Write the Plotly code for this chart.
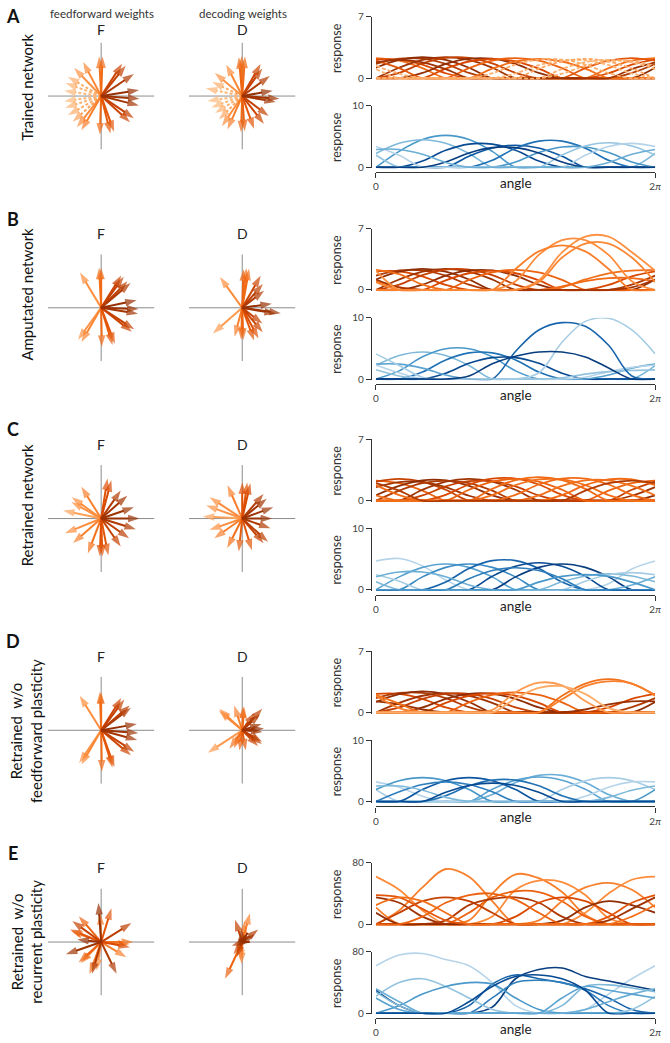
import math
import plotly.graph_objects as go
from plotly.colors import sample_colorscale

W, H = 670, 1043
FONT = "Lato"

# ---------------- layout anchors (pixel rows) ----------------
ROW_TOP = [10, 224, 437, 651, 865]
ROW_LETTERS = ["A", "B", "C", "D", "E"]
ROW_LABELS = ["Trained network", "Amputated network", "Retrained network",
              "Retrained  w/o<br>feedforward plasticity",
              "Retrained  w/o<br>recurrent plasticity"]
ORANGE_MAX = [7, 7, 7, 7, 80]
BLUE_MAX = [10, 10, 10, 10, 80]
GRID_DEG = [0, 30, 60, 90, 120, 150, 180, 210, 240, 270, 300, 330, 360]
X_TICK_TEXT = ["0", "2<i>π</i>"]

# ---------------- weight vectors (angle deg, length, shade) ----------------
A_F_ANG = [88, 93, 118, 134, 150, 160, 172, 188, 198, 210, 222, 232, 240, 268, 284, 290, 318, 326, 346, 356, 9, 34, 51, 57]
A_F_LEN = [0.74, 0.74, 0.72, 0.73, 0.72, 0.71, 0.70, 0.70, 0.71, 0.72, 0.72, 0.74, 0.74, 0.72, 0.72, 0.71, 0.73, 0.74, 0.73, 0.72, 0.72, 0.74, 0.73, 0.72]
A_F_SH = [0.62, 0.6, 0.52, 0.48, 0.38, 0.36, 0.34, 0.34, 0.36, 0.38, 0.42, 0.5, 0.55, 0.62, 0.68, 0.7, 0.78, 0.8, 0.88, 0.9, 0.92, 0.85, 0.8, 0.78]
A_F_DASH = [0, 0, 0, 0, 1, 1, 1, 1, 1, 1, 1, 0, 0, 0, 0, 0, 0, 0, 0, 0, 0, 0, 0, 0]

A_D_ANG = [86, 91, 95, 117, 140, 155, 168, 188, 200, 212, 225, 236, 246, 268, 274, 290, 308, 323, 350, 356, 10, 36, 54, 60]
A_D_LEN = [0.74, 0.75, 0.73, 0.66, 0.67, 0.62, 0.70, 0.66, 0.62, 0.60, 0.62, 0.68, 0.68, 0.68, 0.66, 0.65, 0.66, 0.62, 0.64, 0.70, 0.58, 0.64, 0.64, 0.69]
A_D_SH = [0.62, 0.6, 0.64, 0.52, 0.48, 0.38, 0.36, 0.34, 0.34, 0.36, 0.4, 0.5, 0.55, 0.62, 0.66, 0.7, 0.78, 0.8, 0.88, 0.9, 0.92, 0.85, 0.8, 0.78]
A_D_DASH = [0, 0, 0, 0, 0, 1, 1, 1, 1, 1, 1, 0, 0, 0, 0, 0, 0, 0, 0, 0, 0, 0, 0, 0]

B_F_ANG = [90, 93, 121, 234, 240, 271, 287, 291, 322, 327, 351, 358, 12, 40, 45, 54, 58]
B_F_LEN = [0.75, 0.75, 0.77, 0.74, 0.74, 0.73, 0.73, 0.72, 0.73, 0.74, 0.70, 0.70, 0.68, 0.72, 0.70, 0.72, 0.71]
B_F_SH = [0.62, 0.6, 0.5, 0.48, 0.52, 0.62, 0.68, 0.7, 0.78, 0.8, 0.88, 0.9, 0.92, 0.85, 0.82, 0.8, 0.78]

B_D_ANG = [80, 84, 88, 126, 221, 255, 268, 272, 290, 298, 310, 322, 350, 352, 8, 38, 49, 60]
B_D_LEN = [0.74, 0.75, 0.72, 0.71, 0.73, 0.56, 0.60, 0.60, 0.65, 0.65, 0.60, 0.48, 0.64, 0.73, 0.56, 0.52, 0.59, 0.69]
B_D_SH = [0.62, 0.6, 0.64, 0.5, 0.45, 0.55, 0.62, 0.64, 0.7, 0.72, 0.78, 0.8, 0.88, 0.9, 0.92, 0.85, 0.82, 0.78]

C_F_ANG = [81, 75, 122, 144, 151, 168, 202, 221, 249, 268, 272, 281, 305, 325, 343, 0, 19, 41, 55]
C_F_LEN = [0.76, 0.74, 0.70, 0.68, 0.64, 0.73, 0.73, 0.70, 0.70, 0.71, 0.71, 0.70, 0.64, 0.64, 0.68, 0.72, 0.65, 0.65, 0.64]
C_F_SH = [0.72, 0.75, 0.55, 0.5, 0.48, 0.42, 0.5, 0.55, 0.6, 0.72, 0.68, 0.7, 0.8, 0.82, 0.85, 0.92, 0.9, 0.88, 0.85]

C_D_ANG = [90, 82, 77, 114, 147, 160, 177, 199, 215, 243, 264, 287, 311, 318, 341, 0, 20, 39, 49]
C_D_LEN = [0.68, 0.68, 0.68, 0.68, 0.73, 0.72, 0.74, 0.65, 0.64, 0.62, 0.62, 0.62, 0.61, 0.65, 0.56, 0.56, 0.62, 0.59, 0.61]
C_D_SH = [0.72, 0.7, 0.75, 0.55, 0.5, 0.48, 0.42, 0.5, 0.55, 0.6, 0.68, 0.7, 0.8, 0.82, 0.85, 0.92, 0.9, 0.88, 0.85]

D_F_ANG = [90, 92, 122, 236, 240, 271, 287, 290, 320, 327, 345, 356, 10, 37, 41, 53, 58]
D_F_LEN = [0.71, 0.72, 0.76, 0.74, 0.74, 0.77, 0.73, 0.73, 0.73, 0.74, 0.70, 0.70, 0.68, 0.70, 0.71, 0.72, 0.71]
D_F_SH = [0.62, 0.6, 0.5, 0.48, 0.52, 0.62, 0.68, 0.7, 0.78, 0.8, 0.88, 0.9, 0.92, 0.85, 0.82, 0.8, 0.78]

D_D_ANG = [137, 140, 108, 85, 88, 55, 47, 42, 18, 5, 355, 330, 325, 315, 280, 262, 245, 235, 213]
D_D_LEN = [0.59, 0.57, 0.49, 0.44, 0.45, 0.40, 0.55, 0.45, 0.38, 0.41, 0.38, 0.43, 0.45, 0.42, 0.38, 0.38, 0.37, 0.42, 0.77]
D_D_SH = [0.5, 0.52, 0.55, 0.6, 0.62, 0.8, 0.82, 0.85, 0.9, 0.92, 0.9, 0.82, 0.8, 0.78, 0.68, 0.65, 0.6, 0.58, 0.45]

E_F_ANG = [94, 92, 73, 32, 0, 355, 350, 329, 296, 261, 254, 250, 222, 226, 199, 174, 158, 160, 144, 131]
E_F_LEN = [0.73, 0.54, 0.66, 0.67, 0.60, 0.53, 0.55, 0.55, 0.66, 0.54, 0.62, 0.64, 0.57, 0.55, 0.70, 0.45, 0.63, 0.60, 0.67, 0.64]
E_F_SH = [0.92, 0.55, 0.7, 0.82, 0.6, 0.55, 0.75, 0.55, 0.85, 0.5, 0.85, 0.6, 0.65, 0.55, 0.9, 0.92, 0.7, 0.55, 0.8, 0.65]

E_D_ANG = [75, 108, 83, 38, 31, 0, 200, 234, 263, 268, 245, 95, 60, 250]
E_D_LEN = [0.56, 0.44, 0.39, 0.38, 0.27, 0.14, 0.21, 0.28, 0.35, 0.41, 0.76, 0.25, 0.20, 0.30]
E_D_SH = [0.55, 0.8, 0.6, 0.85, 0.9, 0.92, 0.85, 0.75, 0.5, 0.55, 0.65, 0.9, 0.92, 0.8]

# ---------------- response curves (values at GRID_DEG) ----------------
A_ORANGE = [
    [2.3, 2.0, 1.15, 0, 0, 0, 0, 0, 0, 0, 1.15, 2.0, 2.3],
    [2.13, 2.13, 1.56, 0.57, 0, 0, 0, 0, 0, 0, 0.57, 1.56, 2.13],
    [1.63, 2.23, 2.23, 1.63, 0.6, 0, 0, 0, 0, 0, 0, 0.6, 1.63],
    [1.2, 2.09, 2.4, 2.09, 1.2, 0, 0, 0, 0, 0, 0, 0, 1.2],
    [0, 1.2, 2.09, 2.4, 2.09, 1.2, 0, 0, 0, 0, 0, 0, 0],
    [0, 0.62, 1.7, 2.33, 2.33, 1.7, 0.62, 0, 0, 0, 0, 0, 0],
    [0, 0, 0.6, 1.63, 2.23, 2.23, 1.63, 0.6, 0, 0, 0, 0, 0],
    [0, 0, 0, 1.1, 1.91, 2.2, 1.91, 1.1, 0, 0, 0, 0, 0],
    [0, 0, 0, 0, 1.15, 2.0, 2.3, 2.0, 1.15, 0, 0, 0, 0],
    [0, 0, 0, 0, 0, 1.1, 1.91, 2.2, 1.91, 1.1, 0, 0, 0],
    [2.0, 1.15, 0, 0, 0, 0, 0, 0, 0, 1.15, 2.0, 2.3, 2.0],
    [1.82, 2.1, 1.82, 1.05, 0, 0, 0, 0, 0, 0, 0, 1.05, 1.82],
    [0, 0, 0, 0, 0, 0.57, 1.56, 2.13, 2.13, 1.56, 0.57, 0, 0],
    [0, 0, 0, 0, 0, 0, 0.55, 1.49, 2.04, 2.04, 1.49, 0.55, 0],
    [0, 0, 0, 0, 0, 0, 0, 1.1, 1.91, 2.2, 1.91, 1.1, 0],
    [1.05, 0, 0, 0, 0, 0, 0, 0, 1.05, 1.83, 2.1, 1.83, 1.05],
    [1.42, 0.52, 0, 0, 0, 0, 0, 0, 0.52, 1.42, 1.94, 1.94, 1.42],
]
A_ORANGE_SH = [0.6, 0.75, 0.85, 0.95, 0.9, 0.8, 0.95, 0.75, 0.65, 0.6, 0.7, 0.9, 0.38, 0.35, 0.4, 0.36, 0.38]
A_ORANGE_DASH = [0, 0, 0, 0, 0, 0, 0, 0, 0, 0, 0, 0, 1, 1, 1, 1, 1]

A_BLUE = [
    [0, 0, 0, 0, 0, 0, 0, 0, 0, 0, 0, 0, 0],
    [0, 0, 0, 0, 0, 0, 0, 0, 0, 0, 0, 0, 0],
    [0, 2.6, 4.52, 5.2, 4.52, 2.6, 0, 0, 0, 0, 0, 0, 0],
    [2.25, 3.92, 4.5, 3.92, 2.25, 0, 0, 0, 0, 0, 0, 0, 2.25],
    [0, 0, 1.01, 2.77, 3.78, 3.78, 2.77, 1.01, 0, 0, 0, 0, 0],
    [0, 0, 0, 0, 1.8, 3.13, 3.6, 3.13, 1.8, 0, 0, 0, 0],
    [0, 0, 0, 0, 0, 1.14, 3.12, 4.27, 4.27, 3.12, 1.14, 0, 0],
    [0, 0, 0, 0, 0, 0, 0.88, 2.41, 3.3, 3.3, 2.41, 0.88, 0],
    [2.0, 0, 0, 0, 0, 0, 0, 0, 2.0, 3.48, 4.0, 3.48, 2.0],
    [3.39, 1.95, 0, 0, 0, 0, 0, 0, 0, 1.95, 3.39, 3.9, 3.39],
    [0, 0, 0, 0.86, 2.34, 3.2, 3.2, 2.34, 0.86, 0, 0, 0, 0],
    [2.91, 2.91, 2.13, 0.78, 0, 0, 0, 0, 0, 0, 0.78, 2.13, 2.91],
]
A_BLUE_SH = [0.35, 0.6, 0.6, 0.45, 0.9, 0.85, 0.75, 0.6, 0.4, 0.3, 0.95, 0.5]

B_ORANGE = [
    [2.13, 2.13, 1.56, 0.57, 0, 0, 0, 0, 0, 0, 0.57, 1.56, 2.13],
    [1.63, 2.23, 2.23, 1.63, 0.6, 0, 0, 0, 0, 0, 0, 0.6, 1.63],
    [1.2, 2.09, 2.4, 2.09, 1.2, 0, 0, 0, 0, 0, 0, 0, 1.2],
    [0, 1.2, 2.09, 2.4, 2.09, 1.2, 0, 0, 0, 0, 0, 0, 0],
    [0, 0.62, 1.7, 2.33, 2.33, 1.7, 0.62, 0, 0, 0, 0, 0, 0],
    [0, 0, 0.6, 1.63, 2.23, 2.23, 1.63, 0.6, 0, 0, 0, 0, 0],
    [0, 0, 0, 1.1, 1.91, 2.2, 1.91, 1.1, 0, 0, 0, 0, 0],
    [0, 0, 0, 0, 1.15, 2.0, 2.3, 2.0, 1.15, 0, 0, 0, 0],
    [2.3, 1.8, 0.6, 0, 0, 0, 0, 0, 0.3, 1.2, 1.9, 2.2, 2.3],
    [1.0, 0.3, 0, 0, 0, 0, 0, 0, 0.4, 1.0, 1.35, 1.35, 1.0],
    [1.2, 0.3, 0, 0, 0, 0, 0, 0, 0, 0, 0, 0.3, 1.2],
    [0, 0, 0, 0, 0, 0, 1.0, 4.0, 5.7, 5.7, 4.0, 1.0, 0],
    [2.2, 0, 0, 0, 0, 0, 0, 1.1, 4.3, 6.1, 6.1, 4.3, 2.2],
    [0, 0, 0, 0, 0, 0, 2.4, 4.4, 5.1, 4.4, 2.4, 0, 0],
    [0.9, 0, 0, 0, 0, 0, 0, 0.9, 3.7, 5.3, 5.3, 3.7, 0.9],
]
B_ORANGE_SH = [0.75, 0.85, 0.95, 0.9, 0.8, 0.95, 0.75, 0.65, 0.6, 0.62, 0.88, 0.5, 0.48, 0.55, 0.52]

B_BLUE = [
    [0, 0, 0, 0, 0, 0, 0, 0, 0, 0, 0, 0, 0],
    [0, 0, 0, 0, 0, 0, 0, 0, 0, 0, 0, 0, 0],
    [2.2, 3.83, 4.4, 3.83, 2.2, 0, 0, 0, 0, 0, 0, 0, 2.2],
    [0, 1.33, 3.62, 4.95, 4.95, 3.62, 1.33, 0, 0, 0, 0, 0, 0],
    [0, 0, 1.14, 3.12, 4.27, 4.27, 3.12, 1.14, 0, 0, 0, 0, 0],
    [0, 0, 0, 0.94, 2.56, 3.49, 3.49, 2.56, 0.94, 0, 0, 0, 0],
    [2.43, 2.43, 1.78, 0.65, 0, 0, 0, 0, 0, 0, 0.65, 1.78, 2.43],
    [2.3, 1.0, 0, 0, 0, 0, 0, 0, 0, 0.3, 1.2, 1.9, 2.3],
    [1.5, 0.5, 0, 0, 0, 0, 0, 0, 0.2, 0.8, 1.2, 1.4, 1.5],
    [0, 0, 0, 0, 0, 0, 4.5, 8.0, 9.2, 8.6, 5.5, 0.5, 0],
    [4.1, 2.2, 0.3, 0, 0, 0, 0, 1.0, 6.0, 9.4, 9.9, 8.0, 4.1],
    [0, 0, 0, 0, 0.5, 2.5, 3.7, 4.4, 4.4, 3.6, 1.8, 0, 0],
]
B_BLUE_SH = [0.35, 0.6, 0.45, 0.6, 0.75, 0.9, 0.55, 0.3, 0.4, 0.8, 0.35, 0.95]

C_ORANGE = [
    [2.3, 2.0, 1.15, 0, 0, 0, 0, 0, 0, 0, 1.15, 2.0, 2.3],
    [2.18, 2.5, 2.18, 1.25, 0, 0, 0, 0, 0, 0, 0, 1.25, 2.18],
    [1.56, 2.13, 2.13, 1.56, 0.57, 0, 0, 0, 0, 0, 0, 0.57, 1.56],
    [0.62, 1.7, 2.33, 2.33, 1.7, 0.62, 0, 0, 0, 0, 0, 0, 0.62],
    [0, 1.15, 2.0, 2.3, 2.0, 1.15, 0, 0, 0, 0, 0, 0, 0],
    [0, 0, 1.25, 2.18, 2.5, 2.18, 1.25, 0, 0, 0, 0, 0, 0],
    [0, 0, 0.6, 1.63, 2.23, 2.23, 1.63, 0.6, 0, 0, 0, 0, 0],
    [0, 0, 0, 0.68, 1.85, 2.52, 2.52, 1.85, 0.68, 0, 0, 0, 0],
    [0, 0, 0, 0, 1.25, 2.18, 2.5, 2.18, 1.25, 0, 0, 0, 0],
    [0, 0, 0, 0, 0, 1.35, 2.35, 2.7, 2.35, 1.35, 0, 0, 0],
    [0, 0, 0, 0, 0, 0.65, 1.78, 2.43, 2.43, 1.78, 0.65, 0, 0],
    [0, 0, 0, 0, 0, 0, 0.68, 1.85, 2.52, 2.52, 1.85, 0.68, 0],
    [0.62, 0, 0, 0, 0, 0, 0, 0.62, 1.7, 2.33, 2.33, 1.7, 0.62],
    [1.78, 0.65, 0, 0, 0, 0, 0, 0, 0.65, 1.78, 2.43, 2.43, 1.78],
    [2.0, 1.15, 0, 0, 0, 0, 0, 0, 0, 1.15, 2.0, 2.3, 2.0],
]
C_ORANGE_SH = [0.65, 0.8, 0.9, 0.95, 0.85, 0.9, 0.8, 0.75, 0.65, 0.62, 0.6, 0.62, 0.6, 0.62, 0.85]

C_BLUE = [
    [0, 0, 0, 0, 0, 0, 0, 0, 0, 0, 0, 0, 0],
    [0, 0, 0, 0, 0, 0, 0, 0, 0, 0, 0, 0, 0],
    [4.7, 5.1, 3.9, 1.6, 0, 0, 0, 0, 0, 0, 1.0, 3.4, 4.7],
    [0, 2.1, 3.65, 4.2, 3.65, 2.1, 0, 0, 0, 0, 0, 0, 0],
    [0, 0, 2.1, 3.65, 4.2, 3.65, 2.1, 0, 0, 0, 0, 0, 0],
    [0, 0, 0, 1.27, 3.48, 4.75, 4.75, 3.48, 1.27, 0, 0, 0, 0],
    [0, 0, 0, 0, 0, 2.2, 3.83, 4.4, 3.83, 2.2, 0, 0, 0],
    [0, 0, 0, 0, 0, 0, 2.1, 3.65, 4.2, 3.65, 2.1, 0, 0],
    [1.3, 0, 0, 0, 0, 0, 0, 0, 1.3, 2.26, 2.6, 2.26, 1.3],
    [2.44, 1.4, 0, 0, 0, 0, 0, 0, 0, 1.4, 2.44, 2.8, 2.44],
    [2.13, 2.91, 2.91, 2.13, 0.78, 0, 0, 0, 0, 0, 0, 0.78, 2.13],
    [0, 0, 0, 0, 1.8, 3.13, 3.6, 3.13, 1.8, 0, 0, 0, 0],
    [0, 0, 0, 0, 0, 0, 0, 1.25, 2.18, 2.5, 2.18, 1.25, 0],
]
C_BLUE_SH = [0.35, 0.6, 0.3, 0.55, 0.65, 0.8, 0.9, 0.95, 0.45, 0.35, 0.5, 0.7, 0.6]

D_ORANGE = [
    [2.13, 2.13, 1.56, 0.57, 0, 0, 0, 0, 0, 0, 0.57, 1.56, 2.13],
    [1.63, 2.23, 2.23, 1.63, 0.6, 0, 0, 0, 0, 0, 0, 0.6, 1.63],
    [1.2, 2.09, 2.4, 2.09, 1.2, 0, 0, 0, 0, 0, 0, 0, 1.2],
    [0, 1.1, 1.91, 2.2, 1.91, 1.1, 0, 0, 0, 0, 0, 0, 0],
    [0, 0.57, 1.56, 2.13, 2.13, 1.56, 0.57, 0, 0, 0, 0, 0, 0],
    [0, 0, 0.57, 1.56, 2.13, 2.13, 1.56, 0.57, 0, 0, 0, 0, 0],
    [0, 0, 0, 1.1, 1.91, 2.2, 1.91, 1.1, 0, 0, 0, 0, 0],
    [0, 0, 0, 0, 1.15, 2.0, 2.3, 2.0, 1.15, 0, 0, 0, 0],
    [1.26, 0.92, 0.34, 0, 0, 0, 0, 0, 0, 0.34, 0.92, 1.26, 1.26],
    [2.0, 1.0, 0, 0, 0, 0, 0, 0, 1.9, 3.3, 3.8, 3.3, 2.0],
    [1.9, 0.5, 0, 0, 0, 0, 0, 0, 1.5, 3.0, 3.55, 3.3, 1.9],
    [0, 0, 0, 0, 0, 0.3, 2.3, 3.4, 3.1, 1.3, 0, 0, 0],
    [0, 0, 0, 0, 0, 0, 1.6, 2.8, 3.0, 2.1, 0.5, 0, 0],
]
D_ORANGE_SH = [0.75, 0.85, 0.95, 0.9, 0.8, 0.95, 0.75, 0.65, 0.92, 0.6, 0.55, 0.45, 0.38]

D_BLUE = [
    [0, 0, 0, 0, 0, 0, 0, 0, 0, 0, 0, 0, 0],
    [0, 0, 0, 0, 0, 0, 0, 0, 0, 0, 0, 0, 0],
    [0, 0, 0, 0, 0, 1.14, 3.12, 4.27, 4.27, 3.12, 1.14, 0, 0],
    [0, 0, 0, 0, 0, 2.0, 3.48, 4.0, 3.48, 2.0, 0, 0, 0],
    [1.95, 0, 0, 0, 0, 0, 0, 0, 1.95, 3.39, 3.9, 3.39, 1.95],
    [3.2, 2.34, 0.86, 0, 0, 0, 0, 0, 0, 0.86, 2.34, 3.2, 3.2],
    [1.95, 3.39, 3.9, 3.39, 1.95, 0, 0, 0, 0, 0, 0, 0, 1.95],
    [0, 0, 1.95, 3.39, 3.9, 3.39, 1.95, 0, 0, 0, 0, 0, 0],
    [0, 0, 0, 0.94, 2.56, 3.49, 3.49, 2.56, 0.94, 0, 0, 0, 0],
    [0, 1.6, 2.78, 3.2, 2.78, 1.6, 0, 0, 0, 0, 0, 0, 0],
    [2.52, 2.52, 1.85, 0.68, 0, 0, 0, 0, 0, 0, 0.68, 1.85, 2.52],
    [0, 0, 0, 1.5, 2.6, 3.0, 2.6, 1.5, 0, 0, 0, 0, 0],
]
D_BLUE_SH = [0.35, 0.6, 0.5, 0.55, 0.35, 0.3, 0.6, 0.85, 0.75, 0.7, 0.45, 0.9]

E_ORANGE = [
    [0, 0, 0, 0, 0, 0, 0, 0, 0, 0, 0, 0, 0],
    [0, 0, 0, 0, 0, 0, 0, 0, 0, 0, 0, 0, 0],
    [0, 18, 48, 72, 62, 30, 0, 0, 0, 0, 0, 0, 0],
    [62, 45, 18, 0, 0, 0, 0, 0, 0, 15, 40, 58, 62],
    [0, 0, 0, 0, 5, 40, 65, 60, 42, 12, 0, 0, 0],
    [0, 0, 0, 0, 0, 10, 45, 57, 55, 38, 8, 0, 0],
    [0, 0, 0, 0, 15, 35, 43, 42, 30, 10, 0, 0, 0],
    [22, 0, 0, 0, 0, 0, 0, 5, 30, 48, 54, 45, 22],
    [35, 28, 10, 0, 0, 0, 0, 0, 0, 0, 5, 20, 35],
    [0, 15, 30, 35, 30, 15, 0, 0, 0, 0, 0, 0, 0],
    [0, 0, 0, 5, 25, 33, 35, 28, 10, 0, 0, 0, 0],
    [0, 0, 0, 0, 0, 0, 10, 28, 35, 30, 15, 0, 0],
    [15, 0, 0, 0, 0, 0, 0, 0, 5, 22, 30, 25, 15],
    [38, 35, 20, 5, 0, 0, 0, 0, 0, 0, 10, 28, 38],
    [0, 0, 10, 28, 38, 40, 32, 15, 0, 0, 0, 0, 0],
    [25, 35, 30, 15, 0, 0, 0, 0, 0, 0, 0, 10, 25],
]
E_ORANGE_SH = [0.6, 0.8, 0.55, 0.5, 0.55, 0.5, 0.65, 0.55, 0.9, 0.8, 0.85, 0.75, 0.95, 0.7, 0.65, 0.6]

E_BLUE = [
    [0, 0, 0, 0, 0, 0, 0, 0, 0, 0, 0, 0, 0],
    [0, 0, 0, 0, 0, 0, 0, 0, 0, 0, 0, 0, 0],
    [0, 0, 0, 0, 0, 0, 0, 0, 0, 0, 0, 0, 0],
    [62, 76, 78, 70, 62, 40, 10, 0, 0, 5, 25, 45, 62],
    [30, 10, 0, 0, 0, 8, 45, 57, 59, 48, 42, 36, 30],
    [0, 0, 0, 0, 10, 38, 50, 45, 40, 32, 20, 5, 0],
    [0, 0, 0, 0, 0, 20, 40, 43, 40, 30, 10, 0, 0],
    [22, 40, 45, 35, 20, 5, 0, 0, 0, 0, 0, 5, 22],
    [0, 10, 25, 35, 40, 38, 20, 5, 0, 0, 0, 0, 0],
    [32, 15, 0, 0, 0, 0, 0, 0, 0, 5, 15, 25, 32],
    [28, 10, 0, 0, 0, 0, 0, 0, 10, 35, 37, 33, 28],
    [20, 5, 0, 0, 0, 0, 0, 0, 20, 35, 30, 25, 20],
    [0, 0, 0, 0, 15, 35, 48, 50, 45, 30, 0, 0, 0],
]
E_BLUE_SH = [0.3, 0.5, 0.7, 0.3, 0.95, 0.8, 0.7, 0.4, 0.6, 0.5, 0.45, 0.55, 0.9]

# ---------------- assemble ----------------
ARROWS = [
    [(A_F_ANG, A_F_LEN, A_F_SH, A_F_DASH), (A_D_ANG, A_D_LEN, A_D_SH, A_D_DASH)],
    [(B_F_ANG, B_F_LEN, B_F_SH, None), (B_D_ANG, B_D_LEN, B_D_SH, None)],
    [(C_F_ANG, C_F_LEN, C_F_SH, None), (C_D_ANG, C_D_LEN, C_D_SH, None)],
    [(D_F_ANG, D_F_LEN, D_F_SH, None), (D_D_ANG, D_D_LEN, D_D_SH, None)],
    [(E_F_ANG, E_F_LEN, E_F_SH, None), (E_D_ANG, E_D_LEN, E_D_SH, None)],
]
ORANGE_CURVES = [(A_ORANGE, A_ORANGE_SH, A_ORANGE_DASH), (B_ORANGE, B_ORANGE_SH, None),
                 (C_ORANGE, C_ORANGE_SH, None), (D_ORANGE, D_ORANGE_SH, None),
                 (E_ORANGE, E_ORANGE_SH, None)]
BLUE_CURVES = [(A_BLUE, A_BLUE_SH), (B_BLUE, B_BLUE_SH), (C_BLUE, C_BLUE_SH),
               (D_BLUE, D_BLUE_SH), (E_BLUE, E_BLUE_SH)]

GRID_RAD = [math.radians(d) for d in GRID_DEG]
TWO_PI = 2 * math.pi


def orange(v):
    return sample_colorscale("Oranges", [v])[0]


def blue(v):
    return sample_colorscale("Blues", [v])[0]


def px(x):
    return x / W


def py(y):
    return 1 - y / H


def names(i):
    return ("x" if i == 1 else f"x{i}"), ("y" if i == 1 else f"y{i}")


fig = go.Figure()
layout = {}
annotations = []


def ann(x, y, text, size, color="#222", angle=0):
    annotations.append(dict(x=px(x), y=py(y), xref="paper", yref="paper", text=text,
                            showarrow=False, textangle=angle, xanchor="center",
                            yanchor="middle",
                            font=dict(family=FONT, size=size, color=color)))


F_CX, D_CX, HALF = 99.5, 242.5, 54
X0, X1, YSPINE = 378, 661, 373

for r in range(5):
    T = ROW_TOP[r]
    cy = T + 80
    # ---- arrow plots
    for j, cx in enumerate([F_CX, D_CX]):
        i = 4 * r + j + 1
        xa, ya = names(i)
        layout[f"xaxis{i}"] = dict(domain=[px(cx - HALF), px(cx + HALF)], range=[-1, 1],
                                   visible=False, anchor=ya, fixedrange=True)
        layout[f"yaxis{i}"] = dict(domain=[py(cy + HALF), py(cy - HALF)], range=[-1, 1],
                                   visible=False, anchor=xa, fixedrange=True)
        fig.add_trace(go.Scatter(x=[-1, 1, None, 0, 0], y=[0, 0, None, -1, 1], mode="lines",
                                 line=dict(color="#8c8c8c", width=1), xaxis=xa, yaxis=ya,
                                 hoverinfo="skip", showlegend=False))
        ang, ln, sh, dash = ARROWS[r][j]
        order = sorted(range(len(ang)), key=lambda k: sh[k])
        for k in order:
            a = math.radians(ang[k])
            c = orange(sh[k])
            d = "3px,2px" if (dash and dash[k]) else "solid"
            fig.add_trace(go.Scatter(
                x=[0, ln[k] * math.cos(a)], y=[0, ln[k] * math.sin(a)],
                mode="lines+markers", cliponaxis=False,
                line=dict(color=c, width=2.0, dash=d),
                marker=dict(symbol="arrow", size=[0, 12], angleref="previous", color=c,
                            line=dict(width=0)),
                xaxis=xa, yaxis=ya, hoverinfo="skip", showlegend=False))
    # ---- orange responses
    i = 4 * r + 3
    xa, ya = names(i)
    om = ORANGE_MAX[r]
    o_pad = om / 62 * 1.2
    layout[f"xaxis{i}"] = dict(domain=[px(X0), px(X1)], range=[0, TWO_PI], visible=False,
                               anchor=ya, fixedrange=True)
    layout[f"yaxis{i}"] = dict(domain=[py(T + 62 + 1.2), py(T)], range=[-o_pad, om],
                               anchor="free", position=px(YSPINE), showline=True,
                               linecolor="#333", linewidth=1.2, ticks="outside", ticklen=5,
                               tickwidth=1.2, tickcolor="#333", tickvals=[0, om],
                               tickfont=dict(size=10, color="#444", family=FONT),
                               showgrid=False, zeroline=False, fixedrange=True)
    curves, shs, dashes = ORANGE_CURVES[r]
    for k, vals in enumerate(curves):
        d = "4px,2px" if (dashes and dashes[k]) else "solid"
        fig.add_trace(go.Scatter(x=GRID_RAD, y=vals, mode="lines",
                                 line=dict(color=orange(shs[k]), width=1.8, shape="spline",
                                           smoothing=1.0, dash=d),
                                 xaxis=xa, yaxis=ya, hoverinfo="skip", showlegend=False))
    # ---- blue responses
    i = 4 * r + 4
    xa, ya = names(i)
    bm = BLUE_MAX[r]
    b_pad = bm / 62 * 1.2
    layout[f"xaxis{i}"] = dict(domain=[px(X0), px(X1)], range=[0, TWO_PI], anchor="free",
                               position=py(T + 157), showline=True, linecolor="#333",
                               linewidth=1.2, ticks="outside", ticklen=5, tickwidth=1.2,
                               tickcolor="#333", tickvals=[0, TWO_PI], ticktext=X_TICK_TEXT,
                               tickfont=dict(size=10, color="#444", family=FONT),
                               showgrid=False, zeroline=False, fixedrange=True)
    layout[f"yaxis{i}"] = dict(domain=[py(T + 152 + 1.2), py(T + 90)], range=[-b_pad, bm],
                               anchor="free", position=px(YSPINE), showline=True,
                               linecolor="#333", linewidth=1.2, ticks="outside", ticklen=5,
                               tickwidth=1.2, tickcolor="#333", tickvals=[0, bm],
                               tickfont=dict(size=10, color="#444", family=FONT),
                               showgrid=False, zeroline=False, fixedrange=True)
    curves, shs = BLUE_CURVES[r]
    for k, vals in enumerate(curves):
        fig.add_trace(go.Scatter(x=GRID_RAD, y=vals, mode="lines",
                                 line=dict(color=blue(shs[k]), width=1.6, shape="spline",
                                           smoothing=1.0),
                                 xaxis=xa, yaxis=ya, hoverinfo="skip", showlegend=False))

    # ---- texts
    ann(10, 9 if r == 0 else T - 10, f"<b>{ROW_LETTERS[r]}</b>", 18, "#111")
    lab_y = [81, T + 66, T + 67, T + 81, T + 80][r]
    ann(24, lab_y, ROW_LABELS[r], 15, "#111", -90)
    fd_y = 23 if r == 0 else T + 5
    ann(F_CX, fd_y, "F", 14)
    ann(D_CX, fd_y, "D", 14)
    ann(338, T + 31, "response", 12.5, "#333", -90)
    ann(338, T + 121, "response", 12.5, "#333", -90)
    ann((X0 + X1) / 2, T + 168, "angle", 13.5, "#222")

ann(100, 7, "feedforward weights", 11.5, "#333")
ann(243, 7, "decoding weights", 11.5, "#333")

fig.update_layout(width=W, height=H, margin=dict(l=0, r=0, t=0, b=0),
                  paper_bgcolor="white", plot_bgcolor="white", showlegend=False,
                  font=dict(family=FONT), annotations=annotations, **layout)
fig.write_html("out.html", config={"displayModeBar": False},
               post_script="document.body.style.margin='0';document.body.style.padding='0';"
                           "document.documentElement.style.overflow='hidden';")
